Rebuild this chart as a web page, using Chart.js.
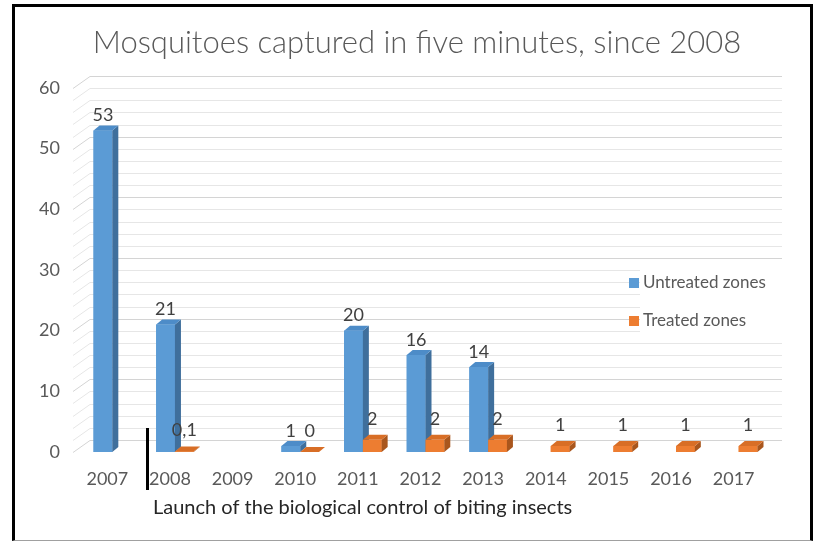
<!DOCTYPE html>
<html>
<head>
<meta charset="utf-8">
<script src="https://cdn.jsdelivr.net/npm/chart.js@4"></script>
<style>
html, body { margin: 0; padding: 0; background: #fff; }
#wrap { position: relative; width: 820px; height: 542px; }
#frame {
  position: absolute; left: 12px; top: 4px; width: 801px; height: 537px;
  box-sizing: border-box; border: 3px solid #000; border-bottom: 1px solid #a0a0a0;
  pointer-events: none;
}
</style>
</head>
<body>
<div id="wrap">
  <canvas id="chart" width="820" height="542"></canvas>
  <div id="frame"></div>
</div>
<script>
const years = ['2007', '2008', '2009', '2010', '2011', '2012', '2013', '2014', '2015', '2016', '2017']
const untreated = [53, 21, null, 1, 20, 16, 14, null, null, null, null]
const treated = [null, 0.1, null, 0, 2, 2, 2, 1, 1, 1, 1]
const seriesNames = ['Untreated zones', 'Treated zones']
const titleText = 'Mosquitoes captured in five minutes, since 2008'
const noteText = 'Launch of the biological control of biting insects'
const noteYear = '2008'

const frontColors = ['#5b9bd5', '#ed7d31']
const topColors = ['#4d8cc8', '#d86e26']
const sideColors = ['#3f6f9c', '#a9561d']
const textColor = '#595959'

// depth of the fake 3d
const DX = 6
const DY = 5

Chart.defaults.font.family = 'Lato'

function poly (ctx, pts) {
  ctx.beginPath()
  ctx.moveTo(pts[0][0], pts[0][1])
  for (let i = 1; i < pts.length; i++) ctx.lineTo(pts[i][0], pts[i][1])
  ctx.closePath()
  ctx.fill()
}

function fmt (v) {
  return String(v).replace('.', ',')
}

const fake3d = {
  id: 'fake3d',
  beforeDatasetsDraw (chart) {
    const ctx = chart.ctx
    const ys = chart.scales.y
    const a = chart.chartArea
    ctx.save()
    ctx.lineWidth = 1
    for (let v = 0; v <= 60; v += 2) {
      const y = Math.round(ys.getPixelForValue(v)) + 0.5
      ctx.strokeStyle = v % 10 === 0 ? '#d4d4d4' : '#e6e6e6'
      ctx.beginPath()
      ctx.moveTo(a.left - 8, y)
      ctx.lineTo(a.left + 9, y - 12)
      ctx.lineTo(a.right + 12, y - 12)
      ctx.stroke()
    }
    ctx.restore()
  },
  afterDatasetsDraw (chart) {
    const ctx = chart.ctx
    ctx.save()
    // blocks, left series first so the right one sits in front
    chart.data.datasets.forEach((ds, di) => {
      const meta = chart.getDatasetMeta(di)
      meta.data.forEach((bar, i) => {
        if (ds.data[i] == null) return
        const p = bar.getProps(['x', 'y', 'base', 'width'], true)
        const l = p.x - p.width / 2
        const r = p.x + p.width / 2
        ctx.fillStyle = frontColors[di]
        ctx.fillRect(l, p.y, p.width, p.base - p.y)
        ctx.fillStyle = sideColors[di]
        poly(ctx, [[r, p.y], [r + DX, p.y - DY], [r + DX, p.base - DY], [r, p.base]])
        ctx.fillStyle = topColors[di]
        poly(ctx, [[l, p.y], [r, p.y], [r + DX, p.y - DY], [l + DX, p.y - DY]])
      })
    })
    // value labels
    ctx.font = '18px Lato'
    ctx.fillStyle = '#404040'
    ctx.textAlign = 'center'
    ctx.textBaseline = 'middle'
    chart.data.datasets.forEach((ds, di) => {
      const meta = chart.getDatasetMeta(di)
      meta.data.forEach((bar, i) => {
        const v = ds.data[i]
        if (v == null) return
        const off = di === 0 ? 15 : 21
        ctx.fillText(fmt(v), bar.x, bar.y - off)
      })
    })
    ctx.restore()
  },
  afterDraw (chart) {
    const ctx = chart.ctx
    const xs = chart.scales.x
    ctx.save()
    // title
    ctx.fillStyle = textColor
    ctx.font = '300 31px Lato'
    ctx.textAlign = 'center'
    ctx.textBaseline = 'middle'
    ctx.fillText(titleText, 417, 43)
    // legend
    ctx.fillStyle = '#fff'
    ctx.fillRect(640, 266, 150, 70)
    ctx.font = '17px Lato'
    ctx.textAlign = 'left'
    seriesNames.forEach((name, i) => {
      const y = 283 + i * 38
      ctx.fillStyle = frontColors[i]
      ctx.fillRect(629, y - 5, 10, 10)
      ctx.fillStyle = textColor
      ctx.fillText(name, 643, y)
    })
    // launch marker
    const idx = years.indexOf(noteYear)
    const lx = Math.round(xs.getPixelForValue(idx) - 28)
    ctx.fillStyle = '#000'
    ctx.fillRect(lx - 1, 428, 3, 62)
    ctx.fillStyle = '#262626'
    ctx.font = '20px Lato'
    ctx.fillText(noteText, lx + 6, 508)
    ctx.restore()
  },
}

const config = {
  type: 'bar',
  data: {
    labels: years,
    datasets: [
      {
        label: seriesNames[0],
        data: untreated,
        backgroundColor: frontColors[0],
        categoryPercentage: 0.6,
        barPercentage: 1,
      },
      {
        label: seriesNames[1],
        data: treated,
        backgroundColor: frontColors[1],
        categoryPercentage: 0.6,
        barPercentage: 1,
      },
    ],
  },
  options: {
    responsive: false,
    animation: false,
    events: [],
    layout: {
      padding: { left: 0, right: 50, top: 88, bottom: 30 },
    },
    plugins: {
      legend: { display: false },
      tooltip: { enabled: false },
      title: { display: false },
    },
    scales: {
      x: {
        grid: { display: false, drawTicks: false },
        border: { display: false },
        ticks: {
          color: textColor,
          font: { size: 18 },
          padding: 16,
          labelOffset: -5,
          maxRotation: 0,
        },
        afterFit (s) { s.height = 60 },
      },
      y: {
        min: 0,
        max: 60,
        grid: { display: false, drawTicks: false },
        border: { display: false },
        ticks: {
          stepSize: 10,
          color: textColor,
          font: { size: 18 },
          padding: 21,
        },
        afterFit (s) { s.width = 81 },
      },
    },
  },
  plugins: [fake3d],
}

const ctx = document.getElementById('chart').getContext('2d')
const myChart = new Chart(ctx, config)
</script>
</body>
</html>
